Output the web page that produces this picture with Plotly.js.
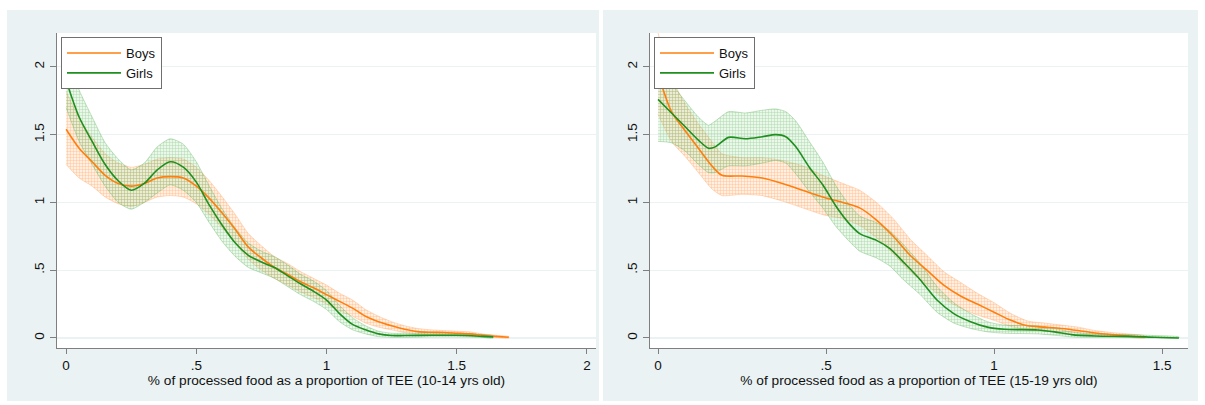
<!DOCTYPE html>
<html>
<head>
<meta charset="utf-8">
<script src="https://cdn.plot.ly/plotly-3.0.1.min.js"></script>
<style>html,body{margin:0;padding:0;background:#fff;}#chart{width:1205px;height:405px;}</style>
</head>
<body>
<div id="chart"></div>
<script>
// ---------- Left panel (10-14 yrs old) ----------
const xL_boys  = [0,0.05,0.10,0.15,0.20,0.25,0.30,0.35,0.40,0.45,0.50,0.55,0.60,0.65,0.70,0.75,0.80,0.85,0.90,0.95,1.00,1.05,1.10,1.15,1.20,1.25,1.30,1.35,1.40,1.45,1.50,1.55,1.60,1.65,1.70];
const yL_boys  = [1.54,1.40,1.30,1.20,1.14,1.12,1.14,1.18,1.19,1.18,1.12,1.03,0.92,0.80,0.67,0.59,0.52,0.47,0.415,0.37,0.32,0.27,0.22,0.16,0.12,0.09,0.065,0.047,0.042,0.04,0.035,0.03,0.02,0.012,0.005];
const loL_boys = [1.28,1.18,1.12,1.04,0.99,0.97,1.00,1.04,1.05,1.04,0.99,0.91,0.81,0.70,0.58,0.50,0.44,0.39,0.34,0.30,0.25,0.20,0.16,0.11,0.08,0.06,0.04,0.03,0.025,0.025,0.02,0.015,0.008,0.004,0.0];
const hiL_boys = [1.82,1.62,1.48,1.36,1.29,1.26,1.28,1.32,1.33,1.32,1.26,1.16,1.04,0.91,0.77,0.68,0.60,0.55,0.49,0.44,0.39,0.33,0.28,0.21,0.16,0.12,0.09,0.07,0.06,0.055,0.05,0.045,0.03,0.02,0.01];

const xL_girls  = [0,0.05,0.10,0.15,0.20,0.25,0.30,0.35,0.40,0.45,0.50,0.55,0.60,0.65,0.70,0.75,0.80,0.85,0.90,0.95,1.00,1.05,1.10,1.15,1.20,1.25,1.30,1.40,1.50,1.60,1.64];
const yL_girls  = [1.90,1.63,1.45,1.28,1.16,1.09,1.14,1.24,1.30,1.26,1.15,0.98,0.83,0.70,0.61,0.56,0.52,0.46,0.40,0.345,0.28,0.18,0.10,0.06,0.03,0.018,0.018,0.02,0.02,0.012,0.008];
const loL_girls = [1.70,1.45,1.28,1.12,1.00,0.95,1.00,1.07,1.13,1.09,1.00,0.85,0.71,0.60,0.52,0.48,0.44,0.38,0.32,0.27,0.21,0.12,0.06,0.03,0.01,0.005,0.005,0.008,0.008,0.004,0.0];
const hiL_girls = [2.12,1.83,1.63,1.44,1.32,1.24,1.29,1.41,1.47,1.43,1.30,1.12,0.95,0.81,0.70,0.64,0.60,0.54,0.47,0.42,0.35,0.24,0.15,0.09,0.05,0.035,0.035,0.035,0.035,0.025,0.018];

// ---------- Right panel (15-19 yrs old) ----------
const xR_boys  = [0,0.04,0.08,0.12,0.16,0.19,0.25,0.31,0.37,0.43,0.49,0.55,0.60,0.65,0.70,0.75,0.80,0.85,0.90,0.95,1.00,1.05,1.10,1.15,1.20,1.25,1.30,1.35,1.40,1.45];
const yR_boys  = [1.95,1.67,1.53,1.40,1.27,1.20,1.195,1.18,1.14,1.09,1.04,1.00,0.96,0.87,0.75,0.61,0.50,0.39,0.31,0.25,0.19,0.13,0.09,0.08,0.07,0.055,0.037,0.025,0.015,0.005];
const loR_boys = [1.65,1.45,1.34,1.22,1.10,1.05,1.06,1.05,1.01,0.96,0.91,0.88,0.83,0.74,0.62,0.49,0.39,0.29,0.22,0.17,0.13,0.085,0.06,0.05,0.045,0.035,0.02,0.012,0.005,0.0];
const hiR_boys = [2.25,1.92,1.73,1.58,1.45,1.36,1.33,1.33,1.31,1.27,1.20,1.14,1.09,1.00,0.88,0.73,0.61,0.49,0.41,0.33,0.26,0.18,0.125,0.11,0.095,0.08,0.055,0.04,0.03,0.015];

const xR_girls  = [0,0.04,0.08,0.12,0.15,0.17,0.21,0.26,0.31,0.35,0.38,0.41,0.45,0.49,0.53,0.57,0.60,0.65,0.69,0.73,0.78,0.83,0.88,0.93,0.98,1.03,1.13,1.18,1.23,1.30,1.40,1.48,1.55];
const yR_girls  = [1.76,1.66,1.56,1.46,1.40,1.41,1.48,1.47,1.485,1.50,1.485,1.41,1.26,1.13,0.97,0.84,0.77,0.72,0.66,0.56,0.43,0.28,0.18,0.12,0.08,0.064,0.059,0.045,0.025,0.015,0.012,0.005,0.0];
const loR_girls = [1.45,1.44,1.38,1.28,1.22,1.22,1.27,1.27,1.29,1.31,1.29,1.21,1.08,0.96,0.82,0.71,0.64,0.59,0.53,0.43,0.32,0.19,0.11,0.07,0.045,0.035,0.03,0.02,0.008,0.005,0.003,0.0,0.0];
const hiR_girls = [2.05,1.88,1.75,1.63,1.57,1.60,1.67,1.66,1.68,1.69,1.67,1.60,1.45,1.30,1.12,0.98,0.90,0.85,0.79,0.69,0.55,0.38,0.26,0.18,0.12,0.095,0.09,0.07,0.045,0.03,0.025,0.018,0.008];

const seriesNames = ['Boys','Girls'];
const yTickVals = [0,0.5,1,1.5,2];
const yTickText = ['0','.5','1','1.5','2'];
const xTickValsL = [0,0.5,1,1.5,2];
const xTickTextL = ['0','.5','1','1.5','2'];
const xTickValsR = [0,0.5,1,1.5];
const xTickTextR = ['0','.5','1','1.5'];
const xTitleL = '% of processed food as a proportion of TEE (10-14 yrs old)';
const xTitleR = '% of processed food as a proportion of TEE (15-19 yrs old)';

const ORANGE = '#ff7f0e';
const GREEN = '#1f8f1f';
const W = 1205, H = 405;

function band(x, lo, hi, fg, bg, edge, xa, ya) {
  return {
    x: x.concat(x.slice().reverse()),
    y: hi.concat(lo.slice().reverse()),
    xaxis: xa, yaxis: ya,
    type: 'scatter', mode: 'lines',
    fill: 'toself',
    fillcolor: bg,
    fillpattern: {shape: '+', size: 3, solidity: 0.3, fgcolor: fg, bgcolor: bg},
    line: {color: edge, width: 0.7, shape: 'spline', smoothing: 0.6},
    hoverinfo: 'skip', showlegend: false
  };
}
function line(x, y, color, name, xa, ya, leg) {
  return {
    x: x, y: y, xaxis: xa, yaxis: ya, type: 'scatter', mode: 'lines',
    name: name, legend: leg,
    line: {color: color, width: 1.6, shape: 'spline', smoothing: 0.8}
  };
}

const OFG = 'rgba(255,155,80,0.55)', OBG = 'rgba(255,210,175,0.35)', OEDGE = 'rgba(255,170,110,0.6)';
const GFG = 'rgba(70,170,70,0.38)', GBG = 'rgba(175,222,175,0.25)', GEDGE = 'rgba(90,175,90,0.5)';

const data = [
  band(xL_boys, loL_boys, hiL_boys, OFG, OBG, OEDGE, 'x', 'y'),
  band(xL_girls, loL_girls, hiL_girls, GFG, GBG, GEDGE, 'x', 'y'),
  line(xL_boys, yL_boys, ORANGE, seriesNames[0], 'x', 'y', 'legend'),
  line(xL_girls, yL_girls, GREEN, seriesNames[1], 'x', 'y', 'legend'),
  band(xR_boys, loR_boys, hiR_boys, OFG, OBG, OEDGE, 'x2', 'y2'),
  band(xR_girls, loR_girls, hiR_girls, GFG, GBG, GEDGE, 'x2', 'y2'),
  line(xR_boys, yR_boys, ORANGE, seriesNames[0], 'x2', 'y2', 'legend2'),
  line(xR_girls, yR_girls, GREEN, seriesNames[1], 'x2', 'y2', 'legend2')
];

const FONT = 'Liberation Sans, Arial, Helvetica, sans-serif';
const AX = '#7f7f7f';
const GRID = '#eaf2f3';
const yDom = [(H - 348) / H, (H - 33) / H];

function xAxis(dom, range, tv, tt, title, anchor) {
  return {
    domain: dom, range: range, anchor: anchor,
    tickvals: tv, ticktext: tt, ticks: 'outside', ticklen: 5, tickwidth: 1, tickcolor: AX,
    showline: true, linecolor: AX, linewidth: 1.2, showgrid: false, zeroline: false,
    tickfont: {family: FONT, size: 13.5, color: '#111'},
    title: {text: title, font: {family: FONT, size: 13.7, color: '#111'}, standoff: 1},
    automargin: false, fixedrange: true
  };
}
function yAxis(anchor) {
  return {
    domain: yDom, range: [-0.074, 2.25], anchor: anchor,
    tickvals: yTickVals, ticktext: yTickText, tickangle: -90,
    ticks: 'outside', ticklen: 6, tickwidth: 1, tickcolor: AX,
    showline: true, linecolor: AX, linewidth: 1.2,
    showgrid: true, gridcolor: GRID, gridwidth: 1.2, zeroline: false,
    tickfont: {family: FONT, size: 13.5, color: '#111'},
    automargin: false, fixedrange: true
  };
}
function legendBox(x, y) {
  return {
    x: x / W, y: 1 - y / H, xanchor: 'left', yanchor: 'top',
    xref: 'paper', yref: 'paper',
    bgcolor: '#ffffff', bordercolor: '#6f6f6f', borderwidth: 1,
    font: {family: FONT, size: 13, color: '#111'},
    itemwidth: 54, tracegroupgap: 0
  };
}
function rect(x0, y0, x1, y1, color) {
  return {type: 'rect', xref: 'paper', yref: 'paper', layer: 'below',
    x0: x0 / W, x1: x1 / W, y0: 1 - y1 / H, y1: 1 - y0 / H,
    fillcolor: color, line: {width: 0}};
}

const layout = {
  width: W, height: H,
  margin: {l: 0, r: 0, t: 0, b: 0},
  paper_bgcolor: '#ffffff', plot_bgcolor: '#ffffff',
  font: {family: FONT, size: 12, color: '#111'},
  xaxis: xAxis([57 / W, 596 / W], [-0.035, 2.035], xTickValsL, xTickTextL, xTitleL, 'y'),
  yaxis: yAxis('x'),
  xaxis2: xAxis([650 / W, 1188 / W], [-0.024, 1.577], xTickValsR, xTickTextR, xTitleR, 'y2'),
  yaxis2: yAxis('x2'),
  legend: legendBox(61, 37),
  legend2: legendBox(654, 37),
  shapes: [
    rect(7, 10, 599, 401, '#eaf2f3'),
    rect(603, 10, 1198, 401, '#eaf2f3'),
    rect(57, 33, 596, 348, '#ffffff'),
    rect(650, 33, 1188, 348, '#ffffff')
  ],
  showlegend: true
};

Plotly.newPlot('chart', data, layout, {displayModeBar: false, staticPlot: true});
</script>
</body>
</html>
